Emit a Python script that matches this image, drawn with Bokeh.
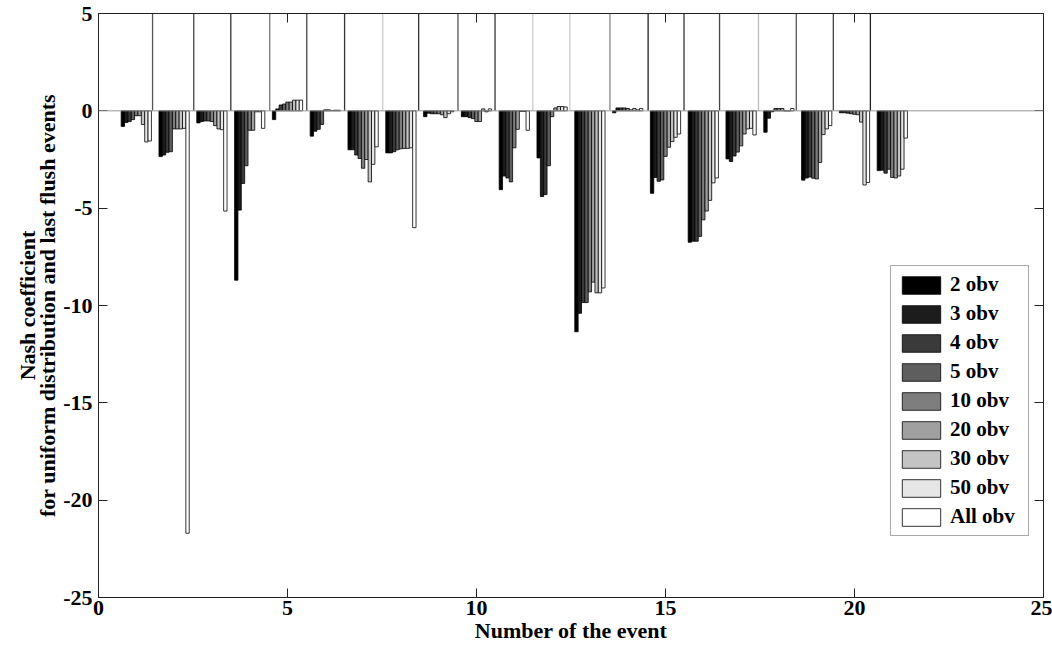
from bokeh.plotting import figure
from bokeh.models import Range1d, LinearAxis, FixedTicker, Span
from bokeh.embed import file_html
from bokeh.resources import INLINE

# ---------------- data ----------------
events = list(range(1, 22))
series_names = ["2 obv", "3 obv", "4 obv", "5 obv", "10 obv", "20 obv", "30 obv", "50 obv", "All obv"]
series_colors = ["#000000", "#1c1c1c", "#3a3a3a", "#5e5e5e", "#7e7e7e", "#a0a0a0", "#c4c4c4", "#e6e6e6", "#ffffff"]

obv2 = [-0.8, -2.35, -0.62, -8.7, -0.45, -1.3, -2.0, -2.16, -0.3, -0.3, -4.05, -2.42, -11.35, -0.1, -4.24, -6.75, -2.47, -1.1, -3.56, -0.1, -3.07]
obv3 = [-0.6, -2.27, -0.55, -5.1, 0.1, -1.05, -2.0, -2.16, -0.12, -0.3, -3.35, -4.4, -10.4, 0.15, -3.42, -6.7, -2.6, -0.38, -3.45, -0.1, -3.05]
obv4 = [-0.55, -2.13, -0.52, -3.73, 0.3, -0.95, -2.27, -2.1, -0.15, -0.35, -3.45, -4.3, -9.85, 0.15, -3.62, -6.7, -2.32, -0.05, -3.4, -0.12, -3.2]
obv5 = [-0.45, -2.1, -0.52, -2.82, 0.35, -0.7, -2.45, -2.0, -0.15, -0.4, -3.65, -2.82, -9.85, 0.15, -3.55, -6.45, -2.12, 0.12, -3.46, -0.15, -3.0]
obv10 = [-0.25, -0.93, -0.55, -1.0, 0.45, 0.05, -2.95, -1.95, -0.15, -0.55, -1.9, -0.3, -9.3, 0.12, -2.34, -5.6, -1.8, 0.12, -3.5, -0.18, -3.42]
obv20 = [-0.25, -0.93, -0.76, -1.0, 0.45, 0.05, -2.5, -1.93, -0.2, -0.55, -0.95, 0.15, -8.8, 0.05, -1.87, -5.15, -1.19, 0.12, -2.65, -0.2, -3.45]
obv30 = [-0.7, -0.93, -0.93, -0.05, 0.55, 0.02, -3.65, -1.93, -0.35, 0.1, -0.03, 0.22, -9.35, 0.12, -1.58, -4.6, -0.93, 0.0, -1.22, -0.58, -3.35]
obv50 = [-1.6, -0.9, -0.97, -0.05, 0.55, 0.03, -2.75, -1.9, -0.15, -0.05, -0.03, 0.22, -9.35, 0.05, -1.36, -3.7, -0.9, 0.0, -0.93, -3.81, -3.0]
obvall = [-1.55, -21.7, -5.15, -0.9, 0.55, 0.03, -1.85, -6.0, -0.05, 0.1, -1.0, 0.2, -9.1, 0.12, -1.19, -3.45, -1.24, 0.12, -0.76, -3.68, -1.4]
series_values = [obv2, obv3, obv4, obv5, obv10, obv20, obv30, obv50, obvall]

# off-scale lines between events
sep_x = [1.43, 2.52, 3.50, 4.53, 5.51, 6.51, 7.52, 8.47, 9.51, 10.49, 11.49, 12.47,
         13.53, 14.54, 15.49, 16.43, 17.46, 18.46, 19.44, 20.42]
sep_colors = ["#555555", "#444444", "#333333", "#777777", "#444444", "#333333", "#cccccc", "#333333",
              "#555555", "#333333", "#cccccc", "#cccccc", "#888888", "#222222", "#333333", "#444444",
              "#bbbbbb", "#555555", "#444444", "#222222"]

x_ticks = [0, 5, 10, 15, 20, 25]
y_ticks = [-25, -20, -15, -10, -5, 0, 5]
x_label = "Number of the event"
y_label_lines = ["Nash coefficient", "for uniform distribution and last flush events"]

FONT = "Liberation Serif"

p = figure(width=1052, height=655, output_backend="svg", toolbar_location=None,
           x_range=Range1d(0, 25), y_range=Range1d(-25, 5),
           min_border_left=98, min_border_right=9, min_border_top=13, min_border_bottom=58)
p.grid.grid_line_color = None
p.outline_line_color = "#222222"
p.background_fill_color = "white"

# baseline
p.add_layout(Span(location=0, dimension="width", line_color="#999999", line_width=1))

# off-scale lines
p.segment(x0=sep_x, y0=[0] * len(sep_x), x1=sep_x, y1=[5] * len(sep_x), line_color=sep_colors, line_width=1.3)

slot = 0.8 / len(series_names)
for j, (name, color, vals) in enumerate(zip(series_names, series_colors, series_values)):
    xs = [e - 0.4 + slot * (j + 0.5) for e in events]
    p.vbar(x=xs, top=vals, bottom=0, width=slot, fill_color=color, line_color="black",
           line_width=0.8, legend_label=name)

# axes styling
for ax in (p.xaxis[0], p.yaxis[0]):
    ax.major_tick_in = 9
    ax.major_tick_out = 0
    ax.minor_tick_line_color = None
    ax.axis_line_color = "#222222"
    ax.major_tick_line_color = "#222222"
    ax.major_label_text_font = FONT
    ax.major_label_text_font_style = "bold"
    ax.major_label_text_font_size = "22px"
    ax.major_label_text_color = "black"
    ax.axis_label_text_font = FONT
    ax.axis_label_text_font_style = "bold"
    ax.axis_label_text_font_size = "22px"
    ax.axis_label_text_color = "black"

p.xaxis[0].ticker = FixedTicker(ticks=x_ticks)
p.yaxis[0].ticker = FixedTicker(ticks=y_ticks)
p.xaxis[0].major_label_overrides = {t: str(t) for t in x_ticks}
p.yaxis[0].major_label_overrides = {t: str(t) for t in y_ticks}
p.xaxis[0].axis_label = x_label
p.xaxis[0].major_label_standoff = 3
p.xaxis[0].axis_label_standoff = 0
p.yaxis[0].major_label_standoff = 6
p.yaxis[0].axis_label = y_label_lines[1]
p.yaxis[0].axis_label_standoff = 0

# outer left axis carrying the first line of the y label
outer = LinearAxis(ticker=FixedTicker(ticks=[]), axis_label=y_label_lines[0])
outer.axis_line_color = None
outer.major_tick_line_color = None
outer.minor_tick_line_color = None
outer.major_label_text_color = None
outer.major_label_text_font_size = "1px"
outer.major_label_standoff = 0
outer.axis_label_standoff = -7
outer.axis_label_text_font = FONT
outer.axis_label_text_font_style = "bold"
outer.axis_label_text_font_size = "22px"
outer.axis_label_text_color = "black"
p.add_layout(outer, "left")

# box ticks on top and right
top_ax = LinearAxis(ticker=FixedTicker(ticks=x_ticks))
right_ax = LinearAxis(ticker=FixedTicker(ticks=y_ticks))
for ax in (top_ax, right_ax):
    ax.major_tick_in = 9
    ax.major_tick_out = 0
    ax.minor_tick_line_color = None
    ax.axis_line_color = "#222222"
    ax.major_tick_line_color = "#222222"
    ax.major_label_text_color = None
    ax.major_label_text_font_size = "1px"
    ax.major_label_standoff = 0
p.add_layout(top_ax, "above")
p.add_layout(right_ax, "right")

# legend
lg = p.legend[0]
lg.location = (792, 61)
lg.border_line_color = "#555555"
lg.border_line_width = 1
lg.background_fill_color = "white"
lg.background_fill_alpha = 1
lg.label_text_font = FONT
lg.label_text_font_style = "bold"
lg.label_text_font_size = "21px"
lg.label_text_color = "black"
lg.glyph_width = 48
lg.glyph_height = 22
lg.label_height = 22
lg.label_width = 72
lg.label_standoff = 5
lg.spacing = 4
lg.padding = 6
lg.margin = 0

open("out.html", "w").write(file_html(p, INLINE))
